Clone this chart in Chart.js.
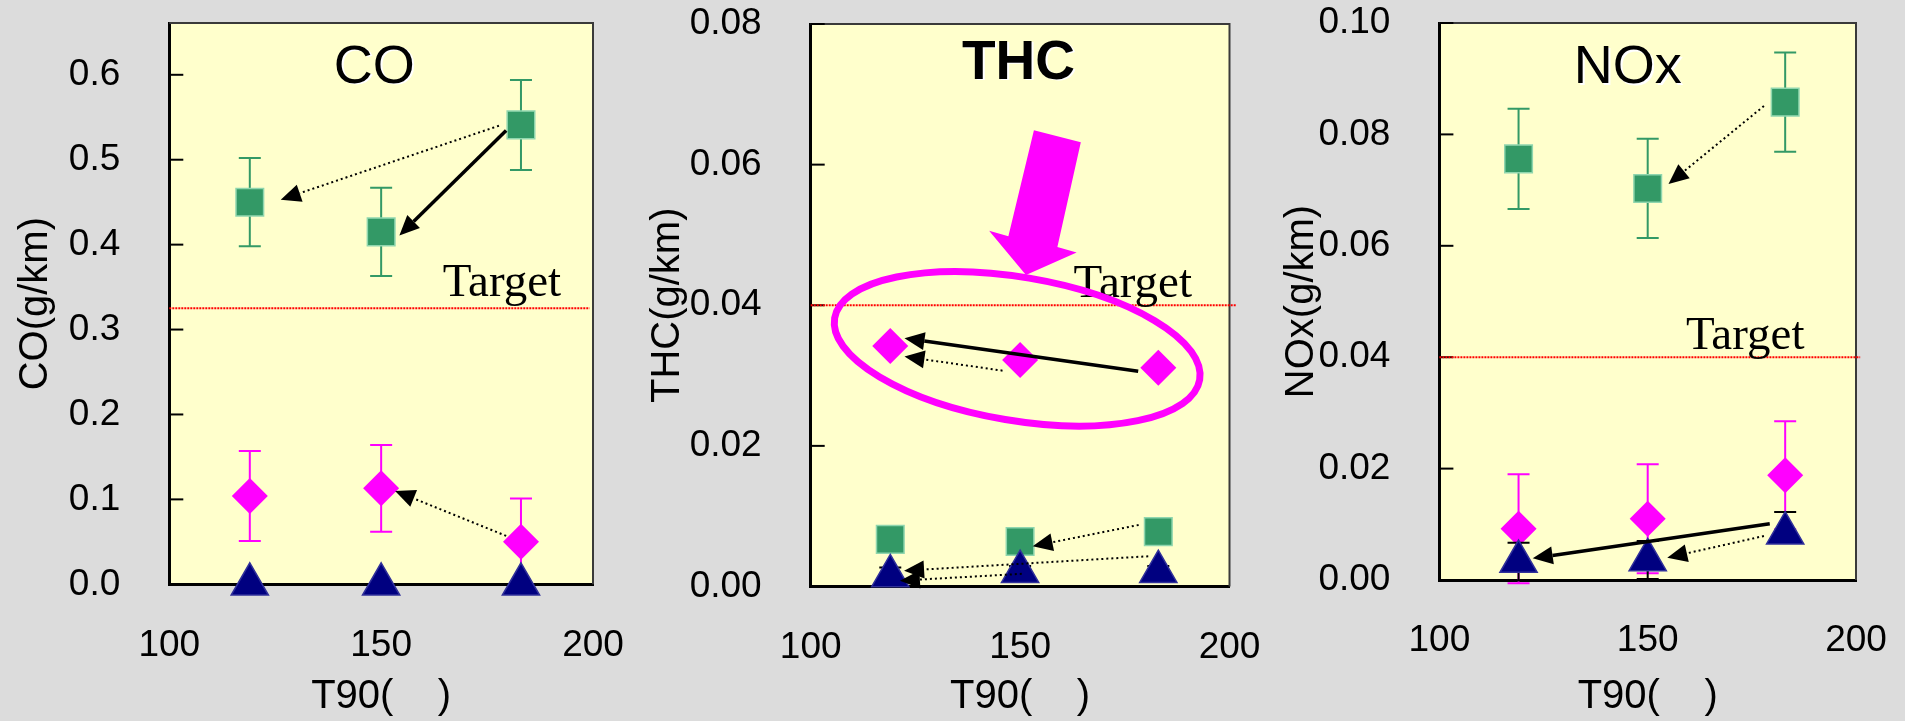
<!DOCTYPE html>
<html>
<head>
<meta charset="utf-8">
<script src="https://cdn.jsdelivr.net/npm/chart.js@4.4.1/dist/chart.umd.min.js"></script>
<style>
    html, body { margin: 0; padding: 0; background: #dcdcdc; }
    body { width: 1905px; height: 721px; position: relative; overflow: hidden; }
    .panel { position: absolute; top: 0; height: 721px; }
    .panel canvas { display: block; }
</style>
</head>
<body>
<div class="panel" style="left:0;width:640px"><canvas id="coChart"></canvas></div>
<div class="panel" style="left:640px;width:640px"><canvas id="thcChart"></canvas></div>
<div class="panel" style="left:1260px;width:645px"><canvas id="noxChart"></canvas></div>

<script>
// T90 positions of the three fuels
const t90 = [119, 150, 183];
const xTicks = [100, 150, 200];

// CO (g/km)
const coGreen = [0.450, 0.415, 0.541];
const coGreenErr = [0.052, 0.052, 0.053];
const coMagenta = [0.104, 0.113, 0.050];
const coMagentaErr = [0.053, 0.051, 0.051];
const coNavy = [0, 0, 0];
const coNavyErr = [0, 0, 0];
const coTarget = 0.325;
const coTicks = [0, 0.1, 0.2, 0.3, 0.4, 0.5, 0.6];

// THC (g/km)
const thcGreen = [0.0067, 0.0064, 0.0078];
const thcGreenErr = [0, 0, 0];
const thcMagenta = [0.0342, 0.0322, 0.0311];
const thcMagentaErr = [0, 0, 0];
const thcNavy = [0.0015, 0.0021, 0.0021];
const thcNavyErr = [0.0012, 0.0008, 0.0008];
const thcTarget = 0.04;
const thcTicks = [0, 0.02, 0.04, 0.06, 0.08];

// NOx (g/km)
const noxGreen = [0.0756, 0.0703, 0.0858];
const noxGreenErr = [0.0090, 0.0089, 0.0089];
const noxMagenta = [0.0092, 0.0110, 0.0188];
const noxMagentaErr = [0.0098, 0.0098, 0.0097];
const noxNavy = [0.0033, 0.0036, 0.0084];
const noxNavyErr = [0.0034, 0.0034, 0.0038];
const noxNavyErrLow = [0.0034, 0.0034, 0.0016];
const noxTarget = 0.04;
const noxTicks = [0, 0.02, 0.04, 0.06, 0.08, 0.10];

// arrows drawn on the plots: [x1, y1, x2, y2, dotted]
const coArrows = [
    [177.8, 0.540, 126.3, 0.453, true],
    [179.5, 0.5345, 154.3, 0.4107, false],
    [179.5, 0.057, 153.3, 0.110, true],
];
const thcArrows = [
    [178.2, 0.0306, 122.4, 0.0353, false],
    [145.8, 0.0307, 122.4, 0.0327, true],
    [178.3, 0.00875, 153.0, 0.00573, true],
    [180.6, 0.0043, 122.3, 0.00225, true],
    [150.4, 0.0018, 121.3, 0.00083, true],
];
const noxArrows = [
    [177.9, 0.0851, 155.0, 0.0711, true],
    [179.3, 0.0101, 122.4, 0.0039, false],
    [177.9, 0.0079, 154.7, 0.0040, true],
];

// THC highlight: ellipse [cx, cy, rx(x units), ry(y units), angle deg] and block arrow outline
const thcEllipse = [149.3, 0.0338, 44.2, 0.0102, 9.6];
const thcBigArrow = [
    [153.3, 0.0649], [164.5, 0.0632], [158.9, 0.0483], [163.5, 0.0475],
    [151.4, 0.0443], [142.6, 0.0506], [147.2, 0.0498],
];

Chart.defaults.font.family = "'Liberation Sans', Arial, Helvetica, sans-serif";
Chart.defaults.color = '#000';

function points(ys) {
    return t90.map((x, i) => ({ x: x, y: ys[i] }));
}

function drawArrow(ctx, x1, y1, x2, y2, dotted) {
    const ang = Math.atan2(y2 - y1, x2 - x1);
    const headLen = 20, headHalf = 9;
    const bx = x2 - headLen * Math.cos(ang);
    const by = y2 - headLen * Math.sin(ang);
    ctx.save();
    ctx.strokeStyle = '#000';
    ctx.fillStyle = '#000';
    ctx.lineWidth = dotted ? 2 : 3.5;
    ctx.setLineDash(dotted ? [2, 3] : []);
    ctx.beginPath();
    ctx.moveTo(x1, y1);
    ctx.lineTo(bx, by);
    ctx.stroke();
    ctx.setLineDash([]);
    ctx.beginPath();
    ctx.moveTo(x2, y2);
    ctx.lineTo(bx + headHalf * Math.sin(ang), by - headHalf * Math.cos(ang));
    ctx.lineTo(bx - headHalf * Math.sin(ang), by + headHalf * Math.cos(ang));
    ctx.closePath();
    ctx.fill();
    ctx.restore();
}

// yellow plot area
const plotBg = {
    id: 'plotBg',
    beforeDraw(chart) {
        const { ctx, chartArea: a } = chart;
        ctx.save();
        ctx.fillStyle = '#ffffcc';
        ctx.fillRect(a.left, a.top, a.right - a.left, a.bottom - a.top);
        ctx.restore();
    },
};

// top/right frame and inward y ticks
const frame = {
    id: 'frame',
    beforeDatasetsDraw(chart) {
        const { ctx, chartArea: a } = chart;
        const y = chart.scales.y;
        ctx.save();
        ctx.strokeStyle = '#3a3a3a';
        ctx.lineWidth = 2;
        ctx.beginPath();
        ctx.moveTo(a.left, a.top);
        ctx.lineTo(a.right, a.top);
        ctx.lineTo(a.right, a.bottom);
        ctx.stroke();
        ctx.strokeStyle = '#000';
        ctx.lineWidth = 2;
        y.ticks.forEach((t) => {
            const py = y.getPixelForValue(t.value);
            ctx.beginPath();
            ctx.moveTo(a.left, py);
            ctx.lineTo(a.left + 14, py);
            ctx.stroke();
        });
        ctx.restore();
    },
};

// error bars under each dataset's markers
const errorBars = {
    id: 'errorBars',
    beforeDatasetDraw(chart, args) {
        const ds = chart.data.datasets[args.index];
        if (!ds.errors) return;
        const y = chart.scales.y;
        const ctx = chart.ctx;
        ctx.save();
        ctx.strokeStyle = ds.errorColor;
        ctx.lineWidth = 2;
        args.meta.data.forEach((pt, i) => {
            const e = ds.errors[i];
            if (!e) return;
            const eLow = ds.errorsLow ? ds.errorsLow[i] : e;
            const v = ds.data[i].y;
            const yTop = y.getPixelForValue(v + e);
            const yBot = y.getPixelForValue(v - eLow);
            ctx.beginPath();
            ctx.moveTo(pt.x, yTop);
            ctx.lineTo(pt.x, yBot);
            ctx.moveTo(pt.x - 11, yTop);
            ctx.lineTo(pt.x + 11, yTop);
            ctx.moveTo(pt.x - 11, yBot);
            ctx.lineTo(pt.x + 11, yBot);
            ctx.stroke();
        });
        ctx.restore();
    },
};

// panel title, Target label, arrows, highlight
const decor = {
    id: 'decor',
    afterDatasetsDraw(chart, args, opts) {
        const { ctx } = chart;
        const x = chart.scales.x, y = chart.scales.y;

        ctx.save();
        ctx.textAlign = 'center';
        ctx.textBaseline = 'alphabetic';
        ctx.font = "47px 'Liberation Serif', 'Times New Roman', serif";
        ctx.fillStyle = '#000';
        ctx.fillText('Target', x.getPixelForValue(opts.targetX), y.getPixelForValue(opts.target) - opts.targetGap);

        ctx.font = (opts.bold ? 'bold ' : '') + opts.titleSize + "px 'Liberation Sans', Arial, sans-serif";
        const tx = x.getPixelForValue(opts.titleX), ty = y.getPixelForValue(opts.titleY);
        ctx.fillStyle = '#ffffff';
        ctx.fillText(opts.title, tx + 2, ty + 1.5);
        ctx.fillStyle = '#000';
        ctx.fillText(opts.title, tx, ty);
        ctx.restore();

        opts.arrows.forEach((a) => {
            drawArrow(ctx, x.getPixelForValue(a[0]), y.getPixelForValue(a[1]),
                x.getPixelForValue(a[2]), y.getPixelForValue(a[3]), a[4]);
        });

        if (opts.bigArrow) {
            ctx.save();
            ctx.fillStyle = '#ff00ff';
            ctx.beginPath();
            opts.bigArrow.forEach((p, i) => {
                const px = x.getPixelForValue(p[0]), py = y.getPixelForValue(p[1]);
                if (i === 0) ctx.moveTo(px, py); else ctx.lineTo(px, py);
            });
            ctx.closePath();
            ctx.fill();
            ctx.restore();
        }
        if (opts.ellipse) {
            const e = opts.ellipse;
            const cx = x.getPixelForValue(e[0]), cy = y.getPixelForValue(e[1]);
            const rx = x.getPixelForValue(e[0] + e[2]) - cx;
            const ry = cy - y.getPixelForValue(e[1] + e[3]);
            ctx.save();
            ctx.strokeStyle = '#ff00ff';
            ctx.lineWidth = 7;
            ctx.beginPath();
            ctx.ellipse(cx, cy, rx, ry, e[4] * Math.PI / 180, 0, Math.PI * 2);
            ctx.stroke();
            ctx.restore();
        }
    },
};

function createPanel(canvasId, s) {
    const ctx = document.getElementById(canvasId).getContext('2d');
    return new Chart(ctx, {
        type: 'scatter',
        data: {
            datasets: [
                {
                    data: points(s.navy),
                    errors: s.navyErr,
                    errorsLow: s.navyErrLow,
                    errorColor: '#000000',
                    pointStyle: 'triangle',
                    pointRadius: 21.5,
                    pointBackgroundColor: '#000080',
                    pointBorderColor: '#30309a',
                    pointBorderWidth: 1.5,
                    clip: false,
                    order: 1,
                },
                {
                    data: points(s.magenta),
                    errors: s.magentaErr,
                    errorColor: '#ff00ff',
                    pointStyle: 'rectRot',
                    pointRadius: 18,
                    pointBackgroundColor: '#ff00ff',
                    pointBorderWidth: 0,
                    clip: false,
                    order: 2,
                },
                {
                    data: points(s.green),
                    errors: s.greenErr,
                    errorColor: '#339966',
                    pointStyle: 'rect',
                    pointRadius: 19.5,
                    pointBackgroundColor: '#339966',
                    pointBorderColor: '#8fd6ae',
                    pointBorderWidth: 1.5,
                    clip: false,
                    order: 3,
                },
                {
                    type: 'line',
                    data: [{ x: 100, y: s.target }, { x: s.targetEnd, y: s.target }],
                    borderColor: '#ff0000',
                    borderWidth: 2,
                    borderDash: [2, 1],
                    pointRadius: 0,
                    clip: false,
                    order: 4,
                },
            ],
        },
        options: {
            responsive: true,
            maintainAspectRatio: false,
            animation: false,
            events: [],
            layout: {
                padding: { left: s.box.padLeft, top: s.box.padTop, right: s.box.padRight, bottom: 0 },
            },
            scales: {
                x: {
                    type: 'linear',
                    min: 100,
                    max: 200,
                    afterBuildTicks: (scale) => { scale.ticks = xTicks.map((v) => ({ value: v })); },
                    afterFit: (scale) => {
                        scale.height = s.box.xHeight;
                        scale.paddingLeft = 0; scale.paddingRight = 0;
                    },
                    grid: { display: false, drawTicks: false },
                    border: { display: true, color: '#000', width: 3 },
                    ticks: { font: { size: 37 }, padding: 39, maxRotation: 0, autoSkip: false },
                    title: { display: true, text: 'T90(    )', font: { size: 40 }, padding: 0 },
                },
                y: {
                    type: 'linear',
                    min: 0,
                    max: s.yMax,
                    afterBuildTicks: (scale) => { scale.ticks = s.ticks.map((v) => ({ value: v })); },
                    afterFit: (scale) => {
                        scale.width = s.box.yWidth;
                        scale.paddingTop = 0; scale.paddingBottom = 0;
                    },
                    grid: { display: false, drawTicks: false },
                    border: { display: true, color: '#000', width: 3 },
                    ticks: {
                        font: { size: 37 },
                        padding: 49,
                        autoSkip: false,
                        callback: (v) => Number(v).toFixed(s.digits),
                    },
                    title: { display: true, text: s.yTitle, font: { size: 40 }, padding: 0 },
                },
            },
            plugins: {
                legend: { display: false },
                tooltip: { enabled: false },
                decor: s.decor,
            },
        },
        plugins: [plotBg, frame, errorBars, decor],
    });
}

document.addEventListener('DOMContentLoaded', function () {
    createPanel('coChart', {
        navy: coNavy, navyErr: coNavyErr,
        magenta: coMagenta, magentaErr: coMagentaErr,
        green: coGreen, greenErr: coGreenErr,
        target: coTarget, targetEnd: 199.2, ticks: coTicks, yMax: 0.661, digits: 1,
        yTitle: 'CO(g/km)',
        box: { padLeft: 12, yWidth: 157.3, padRight: 47, padTop: 20, xHeight: 136.7 },
        decor: {
            title: 'CO', bold: false, titleSize: 54, titleX: 148.4, titleY: 0.5905,
            target: coTarget, targetX: 178.5, targetGap: 12,
            arrows: coArrows,
        },
    });
    createPanel('thcChart', {
        navy: thcNavy, navyErr: thcNavyErr,
        magenta: thcMagenta, magentaErr: thcMagentaErr,
        green: thcGreen, greenErr: thcGreenErr,
        target: thcTarget, targetEnd: 201.5, ticks: thcTicks, yMax: 0.08, digits: 2,
        yTitle: 'THC(g/km)',
        box: { padLeft: 4, yWidth: 166.7, padRight: 50.5, padTop: 24, xHeight: 134.5 },
        decor: {
            title: 'THC', bold: true, titleSize: 55, titleX: 149.6, titleY: 0.0722,
            target: thcTarget, targetX: 176.9, targetGap: 8.5,
            arrows: thcArrows, ellipse: thcEllipse, bigArrow: thcBigArrow,
        },
    });
    createPanel('noxChart', {
        navy: noxNavy, navyErr: noxNavyErr, navyErrLow: noxNavyErrLow,
        magenta: noxMagenta, magentaErr: noxMagentaErr,
        green: noxGreen, greenErr: noxGreenErr,
        target: noxTarget, targetEnd: 201, ticks: noxTicks, yMax: 0.1, digits: 2,
        yTitle: 'NOx(g/km)',
        box: { padLeft: 18, yWidth: 161.4, padRight: 49, padTop: 18.4, xHeight: 141 },
        decor: {
            title: 'NOx', bold: false, titleSize: 54, titleX: 145.2, titleY: 0.0892,
            target: noxTarget, targetX: 173.4, targetGap: 8.6,
            arrows: noxArrows,
        },
    });
});
</script>
</body>
</html>
